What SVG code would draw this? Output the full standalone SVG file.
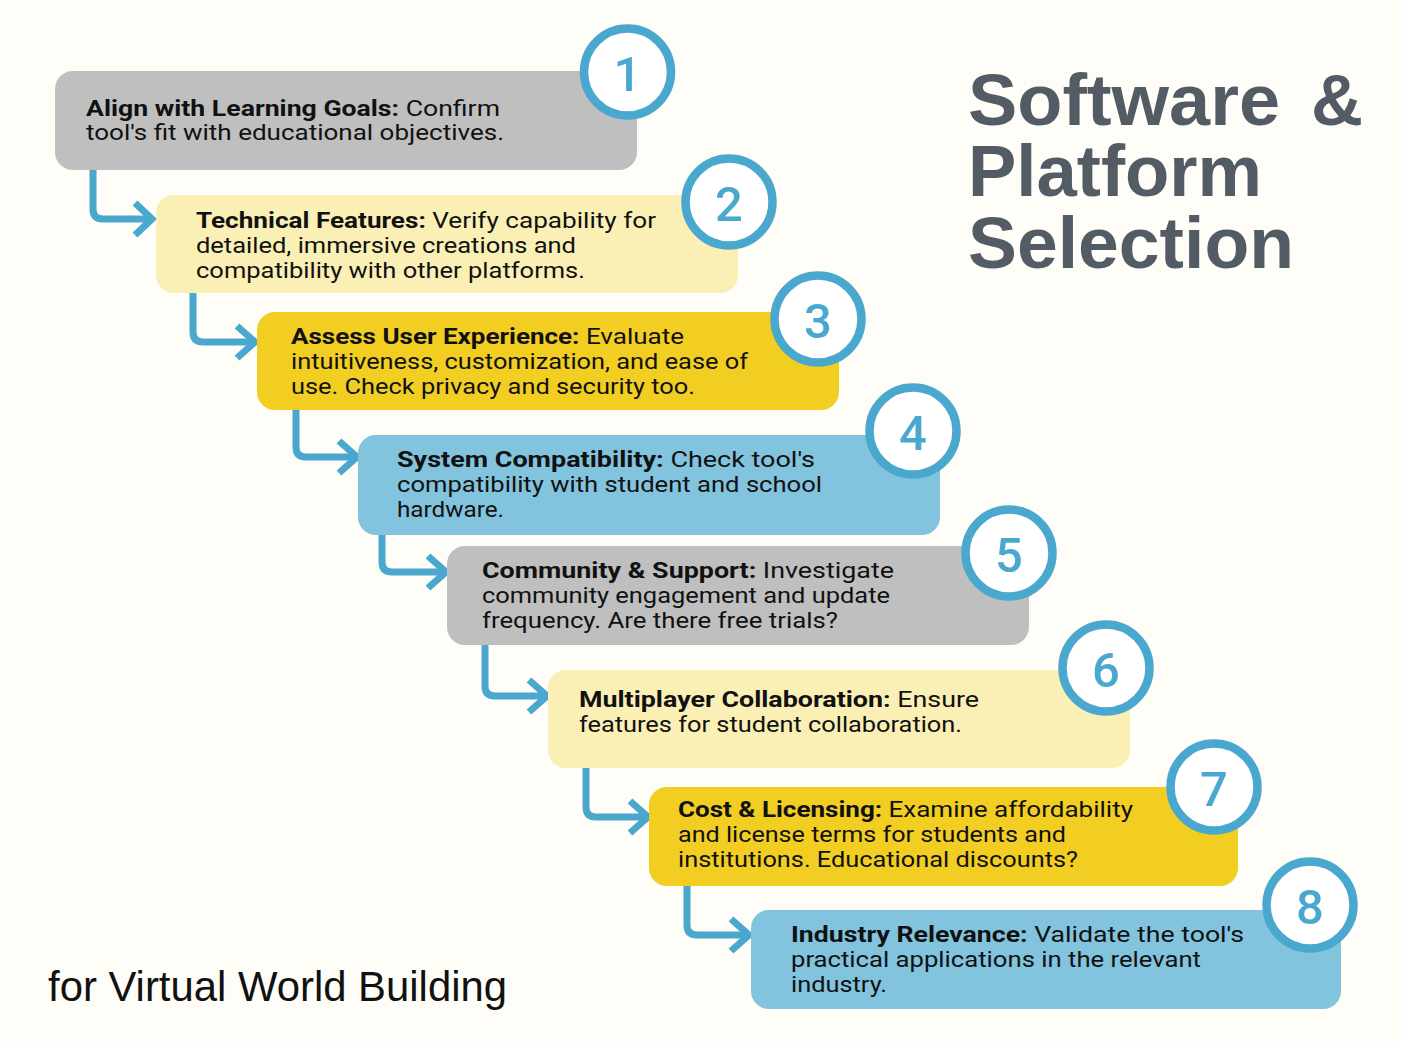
<svg xmlns="http://www.w3.org/2000/svg" width="1402" height="1041" viewBox="0 0 1402 1041">
<style>
.bg{fill:#fefdf7}
.gray{fill:#bfbfbf}
.lyel{fill:#faefb5}
.yel{fill:#f2ce22}
.blue{fill:#82c3dd}
.ring{fill:#ffffff;stroke:#4aa8cf;stroke-width:8.5}
.num{font-family:Roboto,"Liberation Sans",Arial,sans-serif;font-weight:500;font-size:49px;fill:#4aa8cf;text-anchor:middle}
.body{font-family:Roboto,"Liberation Sans",sans-serif;font-size:22px;fill:#111111}
.b{font-weight:bold}
.conn{fill:none;stroke:#4aa8cf;stroke-width:7;stroke-linejoin:miter}
.title{font-family:"Liberation Sans",Arial,sans-serif;font-weight:bold;font-size:72px;fill:#535c64}
.sub{font-family:"Liberation Sans",Arial,sans-serif;font-size:42px;fill:#111111}
</style>
<rect class="bg" x="0" y="0" width="1402" height="1041"/>

<g id="connectors">
<path class="conn" d="M93,170 V209 Q93,219 103,219 H150"/>
<path class="conn" d="M135,203 L152,219 L135,235"/>
<path class="conn" d="M193,293 V332 Q193,342 203,342 H253"/>
<path class="conn" d="M237,326 L255,342 L237,358"/>
<path class="conn" d="M296,410 V447 Q296,457 306,457 H355"/>
<path class="conn" d="M339,441 L357,457 L339,473"/>
<path class="conn" d="M382,535 V562 Q382,572 392,572 H444"/>
<path class="conn" d="M428,556 L446,572 L428,588"/>
<path class="conn" d="M485,645 V686 Q485,696 495,696 H545"/>
<path class="conn" d="M529,680 L547,696 L529,712"/>
<path class="conn" d="M586,768 V807 Q586,817 596,817 H646"/>
<path class="conn" d="M630,801 L648,817 L630,833"/>
<path class="conn" d="M687,886 V925 Q687,935 697,935 H747"/>
<path class="conn" d="M731,919 L749,935 L731,951"/>
</g>

<g id="node1">
<rect class="gray" x="55" y="71" width="582" height="99" rx="18"/>
<text class="body" x="86" y="116" textLength="414" lengthAdjust="spacingAndGlyphs"><tspan class="b">Align with Learning Goals:</tspan> Confirm</text>
<text class="body" x="86" y="140" textLength="418" lengthAdjust="spacingAndGlyphs">tool's fit with educational objectives.</text>
<circle class="ring" cx="627.5" cy="72" r="43.5"/>
<text class="num" x="627.5" y="91">1</text>
</g>

<g id="node2">
<rect class="lyel" x="156" y="195" width="582" height="98" rx="18"/>
<text class="body" x="196" y="228" textLength="460" lengthAdjust="spacingAndGlyphs"><tspan class="b">Technical Features:</tspan> Verify capability for</text>
<text class="body" x="196" y="253" textLength="380" lengthAdjust="spacingAndGlyphs">detailed, immersive creations and</text>
<text class="body" x="196" y="278" textLength="389" lengthAdjust="spacingAndGlyphs">compatibility with other platforms.</text>
<circle class="ring" cx="729" cy="202" r="43.5"/>
<text class="num" x="729" y="221">2</text>
</g>

<g id="node3">
<rect class="yel" x="257" y="312" width="582" height="98" rx="18"/>
<text class="body" x="291" y="344" textLength="393" lengthAdjust="spacingAndGlyphs"><tspan class="b">Assess User Experience:</tspan> Evaluate</text>
<text class="body" x="291" y="369" textLength="457" lengthAdjust="spacingAndGlyphs">intuitiveness, customization, and ease of</text>
<text class="body" x="291" y="394" textLength="404" lengthAdjust="spacingAndGlyphs">use. Check privacy and security too.</text>
<circle class="ring" cx="818" cy="319" r="43.5"/>
<text class="num" x="818" y="338">3</text>
</g>

<g id="node4">
<rect class="blue" x="358" y="435" width="582" height="100" rx="18"/>
<text class="body" x="397" y="467" textLength="418" lengthAdjust="spacingAndGlyphs"><tspan class="b">System Compatibility:</tspan> Check tool's</text>
<text class="body" x="397" y="492" textLength="425" lengthAdjust="spacingAndGlyphs">compatibility with student and school</text>
<text class="body" x="397" y="517" textLength="107" lengthAdjust="spacingAndGlyphs">hardware.</text>
<circle class="ring" cx="913" cy="431" r="43.5"/>
<text class="num" x="913" y="450">4</text>
</g>

<g id="node5">
<rect class="gray" x="447" y="546" width="582" height="99" rx="18"/>
<text class="body" x="482" y="578" textLength="412" lengthAdjust="spacingAndGlyphs"><tspan class="b">Community &amp; Support:</tspan> Investigate</text>
<text class="body" x="482" y="603" textLength="408" lengthAdjust="spacingAndGlyphs">community engagement and update</text>
<text class="body" x="482" y="628" textLength="356" lengthAdjust="spacingAndGlyphs">frequency. Are there free trials?</text>
<circle class="ring" cx="1009" cy="553" r="43.5"/>
<text class="num" x="1009" y="572">5</text>
</g>

<g id="node6">
<rect class="lyel" x="548" y="670" width="582" height="98" rx="18"/>
<text class="body" x="579" y="707" textLength="400" lengthAdjust="spacingAndGlyphs"><tspan class="b">Multiplayer Collaboration:</tspan> Ensure</text>
<text class="body" x="579" y="732" textLength="383" lengthAdjust="spacingAndGlyphs">features for student collaboration.</text>
<circle class="ring" cx="1106" cy="668" r="43.5"/>
<text class="num" x="1106" y="687">6</text>
</g>

<g id="node7">
<rect class="yel" x="649" y="787" width="589" height="99" rx="18"/>
<text class="body" x="678" y="817" textLength="455" lengthAdjust="spacingAndGlyphs"><tspan class="b">Cost &amp; Licensing:</tspan> Examine affordability</text>
<text class="body" x="678" y="842" textLength="388" lengthAdjust="spacingAndGlyphs">and license terms for students and</text>
<text class="body" x="678" y="867" textLength="400" lengthAdjust="spacingAndGlyphs">institutions. Educational discounts?</text>
<circle class="ring" cx="1214" cy="787" r="43.5"/>
<text class="num" x="1214" y="806">7</text>
</g>

<g id="node8">
<rect class="blue" x="751" y="910" width="590" height="99" rx="18"/>
<text class="body" x="791" y="942" textLength="453" lengthAdjust="spacingAndGlyphs"><tspan class="b">Industry Relevance:</tspan> Validate the tool's</text>
<text class="body" x="791" y="967" textLength="410" lengthAdjust="spacingAndGlyphs">practical applications in the relevant</text>
<text class="body" x="791" y="992" textLength="96" lengthAdjust="spacingAndGlyphs">industry.</text>
<circle class="ring" cx="1310" cy="905" r="43.5"/>
<text class="num" x="1310" y="924">8</text>
</g>

<g id="title">
<text class="title" x="968" y="125" textLength="312" lengthAdjust="spacingAndGlyphs">Software</text>
<text class="title" x="1311" y="125">&amp;</text>
<text class="title" x="968" y="196" textLength="294" lengthAdjust="spacingAndGlyphs">Platform</text>
<text class="title" x="968" y="268" textLength="326" lengthAdjust="spacingAndGlyphs">Selection</text>
<text class="sub" x="48" y="1001" textLength="459" lengthAdjust="spacingAndGlyphs">for Virtual World Building</text>
</g>
</svg>
